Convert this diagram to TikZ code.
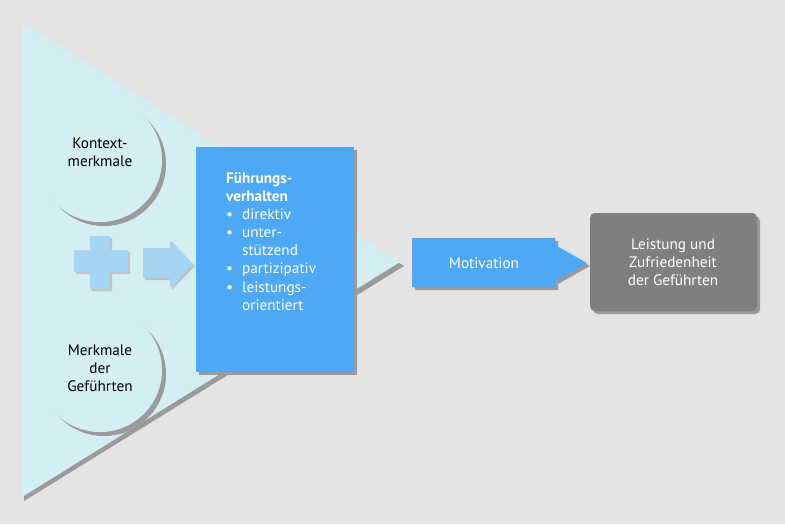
\documentclass[tikz,border=0pt]{standalone}
\usepackage{fontspec}
\setmainfont{PT Sans}
\usetikzlibrary{positioning}
\definecolor{bgGray}{HTML}{E4E4E4}
\definecolor{triCyan}{HTML}{D4EFF3}
\definecolor{boxBlue}{HTML}{4DA9F5}
\definecolor{plusBlue}{HTML}{A6D5F4}
\definecolor{shadowGray}{HTML}{9A9A9A}
\definecolor{resultGray}{HTML}{7F7F7F}
\tikzset{
  label text/.style={font=\fontsize{13}{15.5}\selectfont, align=center},
  white text/.style={label text, text=white},
}
\begin{document}
\begin{tikzpicture}[x=0.03cm, y=-0.03cm]
    % Background
    \fill[bgGray] (0,0) rectangle (785,524);

    % Triangle with shadow
    \fill[shadowGray] (24,26) -- (24,501) -- (404,266) -- cycle;
    \fill[triCyan] (22,22) -- (22,497) -- (400,262) -- cycle;

    % Input circles
    \begin{scope}
      \clip (22,22) -- (22,497) -- (400,262) -- cycle;
      \fill[shadowGray] (104,164) circle (62);
      \fill[triCyan] (100,160) circle (62);
      \fill[shadowGray] (104,374) circle (62);
      \fill[triCyan] (100,370) circle (62);
    \end{scope}
    \node[label text] (kontext) at (100,152) {Kontext-\\merkmale};
    \node[label text] (gefuehrte) at (100,368) {Merkmale\\der\\Geführten};

    % Plus and arrow
    \fill[shadowGray!60] (76,252) -- (92,252) -- (92,238) -- (112,238) -- (112,252) -- (130,252)
      -- (130,274) -- (112,274) -- (112,291) -- (92,291) -- (92,274) -- (76,274) -- cycle;
    \fill[plusBlue] (74,250) -- (90,250) -- (90,236) -- (110,236) -- (110,250) -- (128,250)
      -- (128,272) -- (110,272) -- (110,289) -- (90,289) -- (90,272) -- (74,272) -- cycle;
    \fill[shadowGray!60] (145,250) -- (172,250) -- (172,242) -- (195,266) -- (172,290) -- (172,280) -- (145,280) -- cycle;
    \fill[plusBlue] (143,248) -- (170,248) -- (170,240) -- (193,264) -- (170,288) -- (170,278) -- (143,278) -- cycle;

    % Leadership box
    \fill[shadowGray] (199,150) rectangle (357,375);
    \fill[boxBlue] (196,147) rectangle (354,372);
    \node[white text, align=left, anchor=north west] (fuehrung) at (222,168)
      {\textbf{Führungs-}\\\textbf{verhalten}\\
       \textbullet\hspace{0.6em}direktiv\\
       \textbullet\hspace{0.6em}unter-\\\hphantom{\textbullet\hspace{0.6em}}stützend\\
       \textbullet\hspace{0.6em}partizipativ\\
       \textbullet\hspace{0.6em}leistungs-\\\hphantom{\textbullet\hspace{0.6em}}orientiert};

    % Motivation arrow
    \fill[shadowGray] (415,241) -- (558,241) -- (558,248) -- (590,266) -- (558,284) -- (558,290) -- (415,290) -- cycle;
    \fill[boxBlue] (412,238) -- (555,238) -- (555,245) -- (587,263) -- (555,281) -- (555,287) -- (412,287) -- cycle;
    \node[white text] (motivation) at (484,263) {Motivation};

    % Result box
    \fill[shadowGray, rounded corners=4] (593,216) rectangle (760,314);
    \fill[resultGray, rounded corners=4] (590,213) rectangle (757,311);
    \node[white text] (leistung) at (673,262) {Leistung und\\Zufriedenheit\\der Geführten};
\end{tikzpicture}
\end{document}
